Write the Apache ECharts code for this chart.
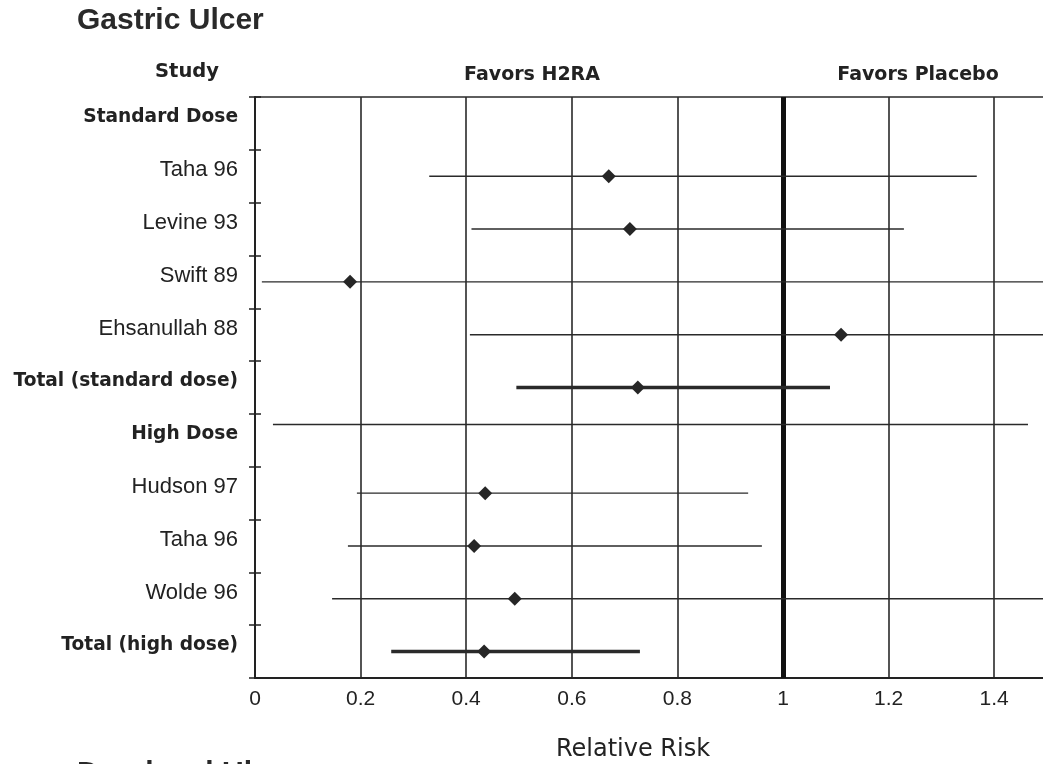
<!DOCTYPE html>
<html><head><meta charset="utf-8">
<script src="https://cdn.jsdelivr.net/npm/echarts@6/dist/echarts.min.js"></script>
<style>html,body{margin:0;padding:0;background:#fff}#c{width:1043px;height:764px}</style>
</head><body><div id="c"></div>
<script>
// ---- data ----
const studies   = ['Standard Dose','Taha 96','Levine 93','Swift 89','Ehsanullah 88','Total (standard dose)','High Dose','Hudson 97','Taha 96','Wolde 96','Total (high dose)'];
const rowType   = ['group','study','study','study','study','total','group','study','study','study','total'];
const rowPos    = [0, 1, 2, 3, 4, 5, 5.7, 7, 8, 9, 10];
const estimate  = [null, 0.67, 0.71, 0.18, 1.11, 0.725, null, 0.436, 0.415, 0.492, 0.434];
const lower     = [null, 0.33, 0.41, 0.013, 0.407, 0.495, 0.034, 0.193, 0.176, 0.146, 0.258];
const upper     = [null, 1.367, 1.229, 1.6, 1.6, 1.089, 1.464, 0.934, 0.96, 1.6, 0.729];
const xTickValues = [0, 0.2, 0.4, 0.6, 0.8, 1, 1.2, 1.4];
const xTickLabels = ['0', '0.2', '0.4', '0.6', '0.8', '1', '1.2', '1.4'];
const nullEffect = 1;
const chartTitle = 'Gastric Ulcer';
const nextTitle = 'Duodenal Ulcer';
const studyHeader = 'Study';
const leftHeader = 'Favors H2RA';
const rightHeader = 'Favors Placebo';
const xName = 'Relative Risk';

// ---- build ----
const items = [];
studies.forEach((s, i) => {
  if (lower[i] !== null) items.push([lower[i], rowPos[i], upper[i], estimate[i], i]);
});

const INK = '#222';
const chart = echarts.init(document.getElementById('c'), null, {renderer: 'canvas'});
chart.setOption({
  animation: false,
  backgroundColor: '#fff',
  grid: {left: 255, top: 97, width: 792, bottom: 86, show: true, borderColor: '#2a2a2a', borderWidth: 1.5,
         containLabel: false, outerBoundsMode: 'none'},
  xAxis: {
    type: 'value', min: 0, max: 1.5, interval: 0.2,
    axisLine: {show: true, onZero: false, lineStyle: {color: INK, width: 2}},
    axisTick: {show: false},
    splitLine: {show: true, lineStyle: {color: '#2a2a2a', width: 1.6}},
    axisLabel: {
      margin: 11, color: INK, fontFamily: 'Liberation Sans', fontSize: 21,
      formatter: v => { const k = xTickValues.findIndex(t => Math.abs(t - v) < 1e-6); return k >= 0 ? xTickLabels[k] : ''; }
    }
  },
  yAxis: [
    {
      type: 'category', position: 'left', data: studies, inverse: true, boundaryGap: true,
      axisLine: {show: true, onZero: false, lineStyle: {color: INK, width: 2}},
      axisTick: {show: true, length: 6, lineStyle: {color: INK, width: 1.5}},
      splitLine: {show: false},
      axisLabel: {
        margin: 17, padding: [0, 0, 12, 0],
        formatter: (v, i) => (rowType[i] === 'study' ? '{r|' + v + '}' : '{b|' + v + '}'),
        rich: {
          r: {fontFamily: 'Liberation Sans', fontSize: 22, color: INK},
          b: {fontFamily: 'DejaVu Sans', fontWeight: 'bold', fontSize: 18.6, color: INK}
        }
      }
    },
    {
      type: 'value', position: 'left', min: -0.5, max: 10.5, interval: 1, inverse: true,
      axisLine: {show: false, onZero: false}, axisLabel: {show: false}, splitLine: {show: false},
      axisTick: {show: true, inside: true, length: 6, lineStyle: {color: INK, width: 1.5}}
    }
  ],
  series: [
    {
      type: 'line', data: [], xAxisIndex: 0, yAxisIndex: 1, silent: true,
      markLine: {
        silent: true, symbol: 'none', animation: false, label: {show: false},
        lineStyle: {color: '#111', width: 5, type: 'solid'},
        data: [{xAxis: nullEffect}]
      }
    },
    {
      type: 'custom', xAxisIndex: 0, yAxisIndex: 1, z: 5,
      data: items,
      encode: {x: [0, 2], y: 1},
      renderItem: (params, api) => {
        const d = items[params.dataIndex];
        const p1 = api.coord([d[0], d[1]]);
        const p2 = api.coord([d[2], d[1]]);
        const thick = rowType[d[4]] === 'total';
        const children = [{
          type: 'line',
          shape: {x1: p1[0], y1: p1[1], x2: p2[0], y2: p2[1]},
          style: {stroke: '#2a2a2a', lineWidth: thick ? 3.5 : 1.4}
        }];
        if (d[3] !== null) {
          const c = api.coord([d[3], d[1]]);
          const r = 7;
          children.push({
            type: 'polygon',
            shape: {points: [[c[0], c[1] - r], [c[0] + r, c[1]], [c[0], c[1] + r], [c[0] - r, c[1]]]},
            style: {fill: '#262626'}
          });
        }
        return {type: 'group', children};
      }
    }
  ],
  graphic: [
    {type: 'text', style: {text: chartTitle, x: 77, y: 21, fontFamily: 'Liberation Sans', fontWeight: 'bold', fontSize: 30, fill: '#2a2a2a', align: 'left', verticalAlign: 'middle'}},
    {type: 'text', style: {text: studyHeader, x: 187, y: 72, fontFamily: 'DejaVu Sans', fontWeight: 'bold', fontSize: 19.5, fill: INK, align: 'center', verticalAlign: 'middle'}},
    {type: 'text', style: {text: leftHeader, x: 532, y: 75, fontFamily: 'DejaVu Sans', fontWeight: 'bold', fontSize: 19, fill: INK, align: 'center', verticalAlign: 'middle'}},
    {type: 'text', style: {text: rightHeader, x: 918, y: 75, fontFamily: 'DejaVu Sans', fontWeight: 'bold', fontSize: 19, fill: INK, align: 'center', verticalAlign: 'middle'}},
    {type: 'text', style: {text: xName, x: 633, y: 750, fontFamily: 'DejaVu Sans', fontSize: 24, fill: INK, align: 'center', verticalAlign: 'middle'}},
    {type: 'text', style: {text: nextTitle, x: 77, y: 774, fontFamily: 'Liberation Sans', fontWeight: 'bold', fontSize: 30, fill: '#2a2a2a', align: 'left', verticalAlign: 'middle'}}
  ]
});
</script>
</body></html>
